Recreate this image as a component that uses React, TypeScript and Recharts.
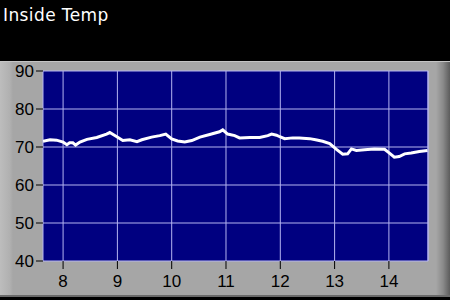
import React from 'react';
import {
  LineChart,
  Line,
  XAxis,
  YAxis,
  CartesianGrid,
  ReferenceLine,
} from 'recharts';

// hour of day
const hours = [
  7.63, 7.76, 7.88, 8.0, 8.07, 8.12, 8.18, 8.23, 8.31, 8.44, 8.62, 8.8, 8.86,
  8.99, 9.1, 9.23, 9.36, 9.45, 9.63, 9.78, 9.89, 10.0, 10.11, 10.24, 10.37,
  10.52, 10.7, 10.88, 10.94, 11.03, 11.16, 11.25, 11.44, 11.62, 11.77, 11.84,
  11.93, 11.99, 12.08, 12.23, 12.35, 12.54, 12.65, 12.78, 12.91, 13.04, 13.15,
  13.24, 13.31, 13.4, 13.55, 13.73, 13.92, 14.01, 14.1, 14.19, 14.29, 14.41,
  14.56, 14.71,
];

// inside temperature
const temps = [
  71.5, 71.9, 71.8, 71.3, 70.6, 71.1, 71.1, 70.5, 71.3, 72.0, 72.5, 73.4, 73.8,
  72.7, 71.7, 71.9, 71.4, 71.9, 72.6, 73.0, 73.4, 72.1, 71.6, 71.3, 71.7, 72.6,
  73.3, 74.0, 74.5, 73.4, 73.0, 72.4, 72.5, 72.5, 73.0, 73.4, 73.1, 72.7, 72.2,
  72.4, 72.4, 72.2, 71.9, 71.5, 70.9, 69.3, 68.1, 68.2, 69.5, 69.1, 69.3, 69.5,
  69.4, 68.4, 67.3, 67.5, 68.2, 68.4, 68.8, 69.1,
];

const xTicks = [8, 9, 10, 11, 12, 13, 14];
const yTicks = [40, 50, 60, 70, 80, 90];
const xDomain = [7.63, 14.72];

const data = hours.map((h, i) => ({ hour: h, temp: temps[i] }));

const font = '"Liberation Sans", Arial, sans-serif';

export default function App() {
  return (
    <div
      style={{
        position: 'absolute',
        left: 0,
        top: 0,
        width: 450,
        height: 300,
        background: '#000',
        overflow: 'hidden',
        fontFamily: font,
      }}
    >
      <div
        style={{
          position: 'absolute',
          left: 3,
          top: 5,
          color: '#fff',
          fontSize: 17,
          lineHeight: '20px',
          letterSpacing: 0.4,
          fontFamily: '"DejaVu Sans", sans-serif',
        }}
      >
        Inside Temp
      </div>
      <div
        style={{
          position: 'absolute',
          left: 0,
          top: 61,
          width: 450,
          height: 236,
          background:
            'linear-gradient(to right, #bdbdbd 0px, #b0b0b0 10px, #a6a6a6 13px, #a6a6a6 436px, #8a8a8a 443px, #5c5c5c 450px)',
          borderTop: '1px solid #c4c4c4',
          borderBottom: '2px solid #6a6a6a',
          boxSizing: 'border-box',
        }}
      />
      <div style={{ position: 'absolute', left: 0, top: 0 }}>
        <LineChart
          width={450}
          height={300}
          data={data}
          margin={{ top: 71, right: 22, left: 0, bottom: 0 }}
        >
          <CartesianGrid fill="#000080" stroke="#b4b4f0" strokeWidth={1} />
          <XAxis
            dataKey="hour"
            type="number"
            domain={xDomain}
            ticks={xTicks}
            allowDataOverflow
            height={39}
            axisLine={false}
            tickLine={{ stroke: '#000' }}
            tickSize={8}
            tickMargin={6}
            tick={{ fill: '#000', fontSize: 17, fontFamily: font }}
          />
          <YAxis
            type="number"
            domain={[40, 90]}
            ticks={yTicks}
            width={43}
            axisLine={false}
            tickLine={{ stroke: '#000' }}
            tickSize={7}
            tick={{ fill: '#000', fontSize: 17, fontFamily: font }}
          />
          <ReferenceLine x={14.72} stroke="#b4b4f0" />
          <Line
            type="linear"
            dataKey="temp"
            stroke="#fff"
            strokeWidth={3}
            dot={false}
            isAnimationActive={false}
          />
        </LineChart>
      </div>
    </div>
  );
}
